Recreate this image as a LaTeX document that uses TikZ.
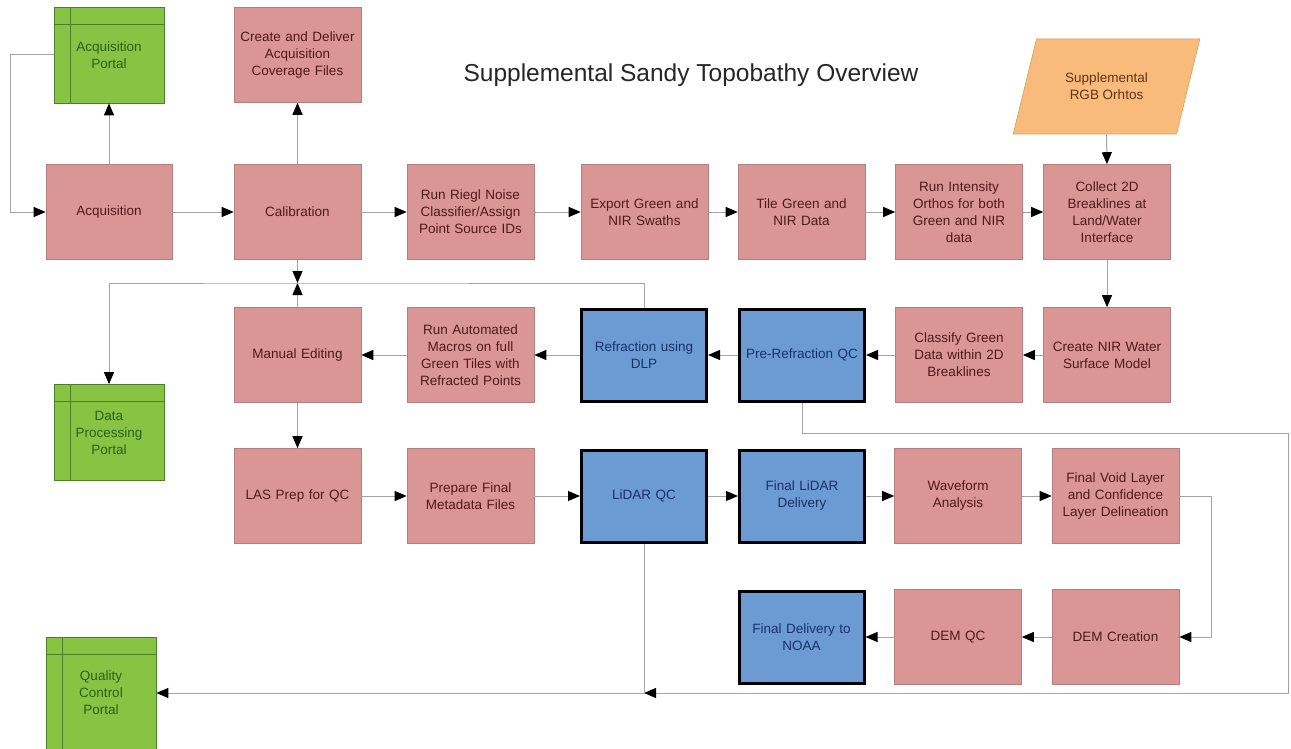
\documentclass[tikz,border=0pt]{standalone}
\usepackage{fontspec}
\setmainfont{Liberation Sans}
\usetikzlibrary{arrows.meta,shapes.geometric}
\definecolor{pinkfill}{HTML}{D99694}
\definecolor{pinkline}{HTML}{B08080}
\definecolor{pinktext}{HTML}{521818}
\definecolor{bluefill}{HTML}{6C9BD4}
\definecolor{bluetext}{HTML}{1A3068}
\definecolor{greenfill}{HTML}{88C443}
\definecolor{greenline}{HTML}{4E7F2A}
\definecolor{greentext}{HTML}{26621A}
\definecolor{orangefill}{HTML}{F9BB7C}
\definecolor{orangeline}{HTML}{D8A060}
\definecolor{orangetext}{HTML}{603414}
\definecolor{connc}{HTML}{A4A4A4}
\tikzset{
  boxbase/.style={rectangle, align=center, inner sep=2pt, text width=120pt,
    font=\fontsize{13.5}{17}\selectfont},
  pinkbox/.style={boxbase, minimum width=127pt, minimum height=95pt,
    fill=pinkfill, draw=pinkline, line width=0.6pt, text=pinktext},
  bluebox/.style={boxbase, minimum width=125pt, minimum height=92pt,
    fill=bluefill, draw=black, line width=3pt, text=bluetext},
  portal/.style={rectangle, align=center, inner sep=2pt, text width=100pt,
    font=\fontsize{13.5}{17}\selectfont,
    minimum width=110pt, minimum height=96pt,
    fill=greenfill, draw=greenline, line width=0.7pt, text=greentext,
    path picture={
      \draw[greenline, line width=0.7pt]
        ([xshift=16pt]path picture bounding box.north west) --
        ([xshift=16pt]path picture bounding box.south west);
      \draw[greenline, line width=0.7pt]
        ([yshift=-17pt]path picture bounding box.north west) --
        ([yshift=-17pt]path picture bounding box.north east);}},
  databox/.style={trapezium, trapezium left angle=65, trapezium right angle=115,
    trapezium stretches=true, minimum width=187pt, minimum height=95pt,
    align=center, inner sep=2pt, fill=orangefill, draw=orangeline, line width=0.6pt,
    text=orangetext, font=\fontsize{13.5}{17}\selectfont},
  conn/.style={draw=connc, line width=1pt},
  arr/.style={conn, -{Triangle[length=12pt,width=10pt,color=black]}},
}
\begin{document}
\begin{tikzpicture}[x=1pt,y=-1pt]
\useasboundingbox[fill=white] (0,0) rectangle (1291,749);

\node[font=\fontsize{24.5}{28}\selectfont, text=black!85] (title) at (691,75)
  {Supplemental Sandy Topobathy Overview};

% row 1
\node[portal] (ap) at (109,55) {Acquisition\\Portal};
\node[pinkbox] (cdf) at (297.5,55) {Create and Deliver\\Acquisition\\Coverage Files};
\node[databox] (rgb) at (1106.5,86.5) {Supplemental\\RGB Orhtos};

% row 2
\node[pinkbox, minimum width=126pt] (acq) at (109,212) {Acquisition};
\node[pinkbox] (cal) at (297.5,212) {Calibration};
\node[pinkbox] (rng) at (470.5,212) {Run Riegl Noise\\Classifier/Assign\\Point Source IDs};
\node[pinkbox] (exp) at (644.5,212) {Export Green and\\NIR Swaths};
\node[pinkbox] (tile) at (801.5,212) {Tile Green and\\NIR Data};
\node[pinkbox] (rio) at (959,212) {Run Intensity\\Orthos for both\\Green and NIR\\data};
\node[pinkbox] (c2d) at (1107,212) {Collect 2D\\Breaklines at\\Land/Water\\Interface};

% row 3
\node[pinkbox] (nir) at (1107,355) {Create NIR Water\\Surface Model};
\node[pinkbox] (cls) at (959,355) {Classify Green\\Data within 2D\\Breaklines};
\node[bluebox] (prq) at (802,355) {Pre-Refraction QC};
\node[bluebox] (refr) at (644,355) {Refraction using\\DLP};
\node[pinkbox] (ram) at (470.5,355) {Run Automated\\Macros on full\\Green Tiles with\\Refracted Points};
\node[pinkbox] (man) at (297.5,355) {Manual Editing};
\node[portal] (dpp) at (109,432.5) {Data\\Processing\\Portal};

% row 4
\node[pinkbox] (las) at (297.5,496) {LAS Prep for QC};
\node[pinkbox] (pfm) at (470.5,496) {Prepare Final\\Metadata Files};
\node[bluebox] (lqc) at (644,496) {LiDAR QC};
\node[bluebox] (fld) at (802,496) {Final LiDAR\\Delivery};
\node[pinkbox] (wav) at (958,496) {Waveform\\Analysis};
\node[pinkbox] (fv) at (1115.5,496) {Final Void Layer\\and Confidence\\Layer Delineation};

% row 5
\node[pinkbox] (demc) at (1115.5,637) {DEM Creation};
\node[pinkbox] (demqc) at (958,637) {DEM QC};
\node[bluebox] (noaa) at (801.5,637) {Final Delivery to\\NOAA};
\node[portal, minimum height=112pt] (qcp) at (101,693) {Quality\\Control\\Portal};

% junctions
\coordinate (bus) at (297.5,283);
\coordinate (bot) at (644,693);

% connectors
\draw[arr] (ap.west) -- (10,55) |- (acq.west);
\draw[arr] (acq.north) -- (ap.south);
\draw[arr] (cal.north) -- (cdf.south);
\draw[arr] (acq.east) -- (cal.west);
\draw[arr] (cal.east) -- (rng.west);
\draw[arr] (rng.east) -- (exp.west);
\draw[arr] (exp.east) -- (tile.west);
\draw[arr] (tile.east) -- (rio.west);
\draw[arr] (rio.east) -- (c2d.west);
\draw[arr] (rgb.south) -- (c2d.north);
\draw[arr] (c2d.south) -- (nir.north);
\draw[arr] (nir.west) -- (cls.east);
\draw[arr] (cls.west) -- (prq.east);
\draw[arr] (prq.west) -- (refr.east);
\draw[arr] (refr.west) -- (ram.east);
\draw[arr] (ram.west) -- (man.east);
\draw[arr] (cal.south) -- (bus);
\draw[arr] (man.north) -- (bus);
\draw[arr] (refr.north) |- (bus) -| (dpp.north);
\draw[arr] (man.south) -- (las.north);
\draw[arr] (las.east) -- (pfm.west);
\draw[arr] (pfm.east) -- (lqc.west);
\draw[arr] (lqc.east) -- (fld.west);
\draw[arr] (fld.east) -- (wav.west);
\draw[arr] (wav.east) -- (fv.west);
\draw[arr] (fv.east) -- ++(32,0) |- (demc.east);
\draw[arr] (demc.west) -- (demqc.east);
\draw[arr] (demqc.west) -- (noaa.east);
\draw[arr] (prq.south) -- ++(0,31) -| (1288,693) -- (bot);
\draw[arr] (lqc.south) |- (qcp.east);
\end{tikzpicture}
\end{document}
